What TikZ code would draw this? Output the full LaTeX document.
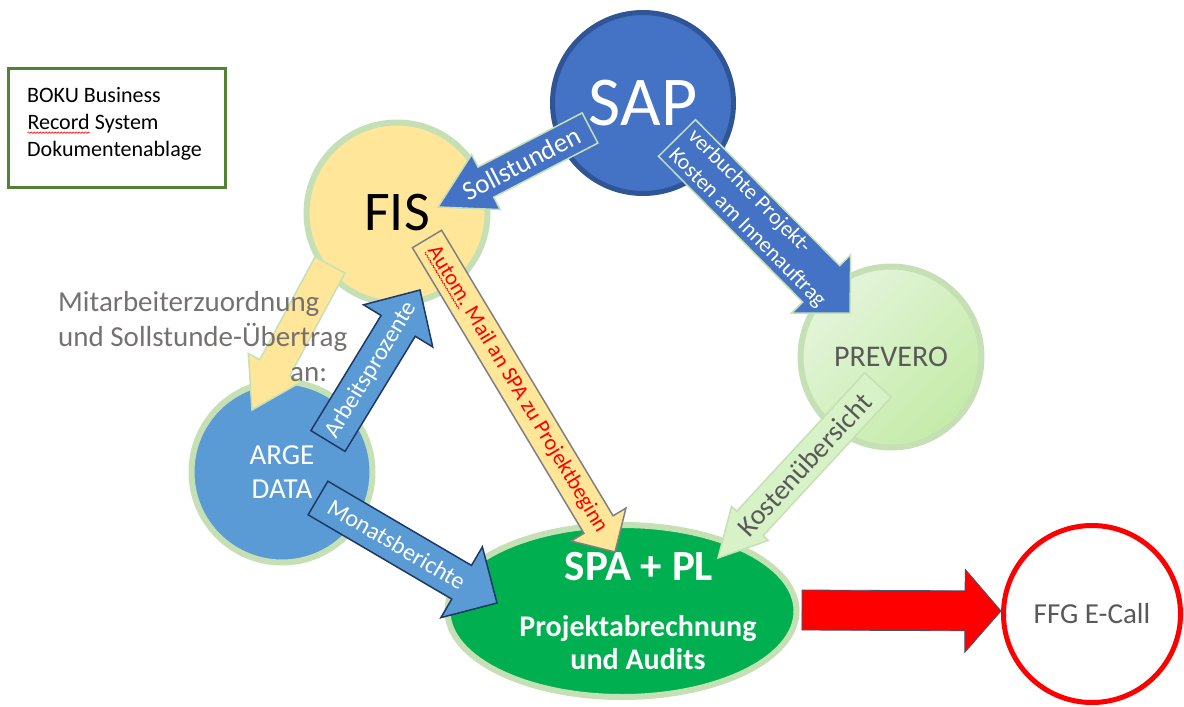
\documentclass[tikz,border=0pt]{standalone}
\usepackage{fontspec}
\setmainfont{Carlito}
\usetikzlibrary{calc,shapes.geometric,decorations.pathmorphing}

\definecolor{sapblue}{HTML}{4472C4}
\definecolor{sapedge}{HTML}{2F5597}
\definecolor{fisyellow}{HTML}{FFE699}
\definecolor{edgegreen}{HTML}{C5E0B4}
\definecolor{argeblue}{HTML}{5B9BD5}
\definecolor{navy}{HTML}{1F3864}
\definecolor{spagreen}{HTML}{00B050}
\definecolor{prevlight}{HTML}{E4F5DA}
\definecolor{prevdark}{HTML}{C4EBA8}
\definecolor{kostgreen}{HTML}{D8F2C8}
\definecolor{textgray}{HTML}{595959}
\definecolor{labelgray}{HTML}{767171}
\definecolor{bokugreen}{HTML}{548235}
\definecolor{slate}{HTML}{44546A}

% block arrow: [style]{tail}{tip}{shaft width}{head width}{head length}
\newcommand\blockarrow[6][]{%
  \draw[#1] let \p1=($(#3)-(#2)$), \n1={atan2(\y1,\x1)}, \n2={veclen(\x1,\y1)-#6} in
    ($(#2)+(\n1+90:#4pt/2)$)
    -- ($(#2)+(\n1:\n2)+(\n1+90:#4pt/2)$)
    -- ($(#2)+(\n1:\n2)+(\n1+90:#5pt/2)$)
    -- (#3)
    -- ($(#2)+(\n1:\n2)+(\n1-90:#5pt/2)$)
    -- ($(#2)+(\n1:\n2)+(\n1-90:#4pt/2)$)
    -- ($(#2)+(\n1-90:#4pt/2)$) -- cycle;}

% red wavy spell-check mark
\newcommand\spellmark[1]{\tikz[baseline=(w.base)]{%
  \node[inner sep=0pt,outer sep=0pt] (w) {#1};
  \draw[red,line width=0.6pt,decorate,decoration={snake,amplitude=0.7pt,segment length=3pt}]
    ([yshift=-3pt]w.base west) -- ([yshift=-3pt]w.base east);}}

\begin{document}
\begin{tikzpicture}[x=1pt,y=-1pt,
  system/.style={circle,draw=edgegreen,line width=6pt,inner sep=0pt,minimum size=181pt},
  flow/.style={line width=1.5pt},
  flowtext/.style={inner sep=0pt,sloped,font=\fontsize{#1}{#1}\selectfont}]
  \useasboundingbox (0,0) rectangle (1184,707);

  % systems
  \node[system,fill=sapblue,draw=sapedge,line width=5pt,text=white,
    font=\fontsize{70}{70}\selectfont] (sap) at (643,103) {SAP};
  \node[system,fill=fisyellow,font=\fontsize{56}{56}\selectfont] (fis) at (397,213) {FIS};
  \node[system,top color=prevlight,bottom color=prevdark,shading angle=45,text=textgray,
    font=\fontsize{30}{30}\selectfont] (prevero) at (891,357) {PREVERO};
  \node[system,fill=argeblue,text=white,align=center,
    font=\fontsize{29}{34}\selectfont] (arge) at (282,472) {ARGE\\DATA};
  \node[ellipse,draw=edgegreen,line width=6pt,fill=spagreen,inner sep=0pt,
    minimum width=349pt,minimum height=172pt] (spa) at (622,611) {};
  \node[circle,draw=red,line width=5pt,fill=white,inner sep=0pt,minimum size=177pt,
    text=textgray,font=\fontsize{29}{29}\selectfont] (ffg) at (1092,614) {FFG E-Call};

  \node[text=white,font=\bfseries\fontsize{43}{43}\selectfont,anchor=base] (spatitle) at (639,580) {SPA + PL};
  \node[text=white,font=\bfseries\fontsize{30}{33}\selectfont,align=center] (spatask) at (638,643)
    {Projektabrechnung\\und Audits};

  % record system
  \draw[bokugreen,line width=3pt] (8,68) rectangle (225,187);
  \node[inner sep=0pt,anchor=west,align=left,font=\fontsize{22}{27}\selectfont] (boku) at (27,124)
    {BOKU Business\\\spellmark{Record} System\\Dokumentenablage};

  % arrow end points
  \coordinate (sollA) at (590,128);  \coordinate (sollB) at (438,207);
  \coordinate (verbA) at (677,138);  \coordinate (verbB) at (850,313);
  \coordinate (mitA)  at (330,265);  \coordinate (mitB)  at (252,410);
  \coordinate (arbA)  at (328,441);  \coordinate (arbB)  at (420,290);
  \coordinate (monA)  at (318,498);  \coordinate (monB)  at (497,603);
  \coordinate (autA)  at (427,239);  \coordinate (autB)  at (615,552);
  \coordinate (kosA)  at (878,385);  \coordinate (kosB)  at (718,558);
  \coordinate (redA)  at (802,610);  \coordinate (redB)  at (1001,611);

  \blockarrow[flow,fill=sapblue,draw=edgegreen]{sollA}{sollB}{34}{62}{54}
  \blockarrow[flow,fill=sapblue,draw=edgegreen]{verbA}{verbB}{52}{83}{41}
  \blockarrow[flow,fill=fisyellow,draw=edgegreen]{mitA}{mitB}{34}{60}{48}
  \blockarrow[flow,fill=argeblue,draw=navy]{arbA}{arbB}{40}{81}{42}
  \blockarrow[flow,fill=argeblue,draw=navy]{monA}{monB}{39}{82}{41}
  \blockarrow[flow,fill=fisyellow,draw=gray]{autA}{autB}{34}{64}{32}
  \blockarrow[flow,fill=kostgreen,draw=edgegreen]{kosA}{kosB}{36}{50}{47}
  \blockarrow[line width=0.8pt,fill=red,draw=slate]{redA}{redB}{40}{83}{36}

  % arrow labels
  \path (sollA) -- (sollB) node[flowtext=27,pos=0.45,text=white] (soll) {Sollstunden};
  \path (verbA) -- (verbB) node[flowtext=22,pos=0.46,text=white,align=left,
    font=\fontsize{22}{27}\selectfont] (verb) {verbuchte Projekt-\\Kosten am Innenauftrag};
  \path (arbA) -- (arbB) node[flowtext=24,pos=0.47,text=white] (arb) {Arbeitsprozente};
  \path (monA) -- (monB) node[flowtext=24,pos=0.44,text=white] (mon) {Monatsberichte};
  \path (autA) -- (autB) node[flowtext=22,pos=0.48,text=red] (aut)
    {\spellmark{\color{red}Autom.} Mail an SPA zu Projektbeginn};
  \path (kosA) -- (kosB) node[flowtext=28,pos=0.46,text=textgray] (kos) {Kostenübersicht};

  \node[inner sep=0pt,anchor=west,align=left,text=labelgray,
    font=\fontsize{29}{35}\selectfont] (mitlabel) at (58,337)
    {Mitarbeiterzuordnung\\und Sollstunde-Übertrag\\\hspace*{232pt}an:};
\end{tikzpicture}
\end{document}
